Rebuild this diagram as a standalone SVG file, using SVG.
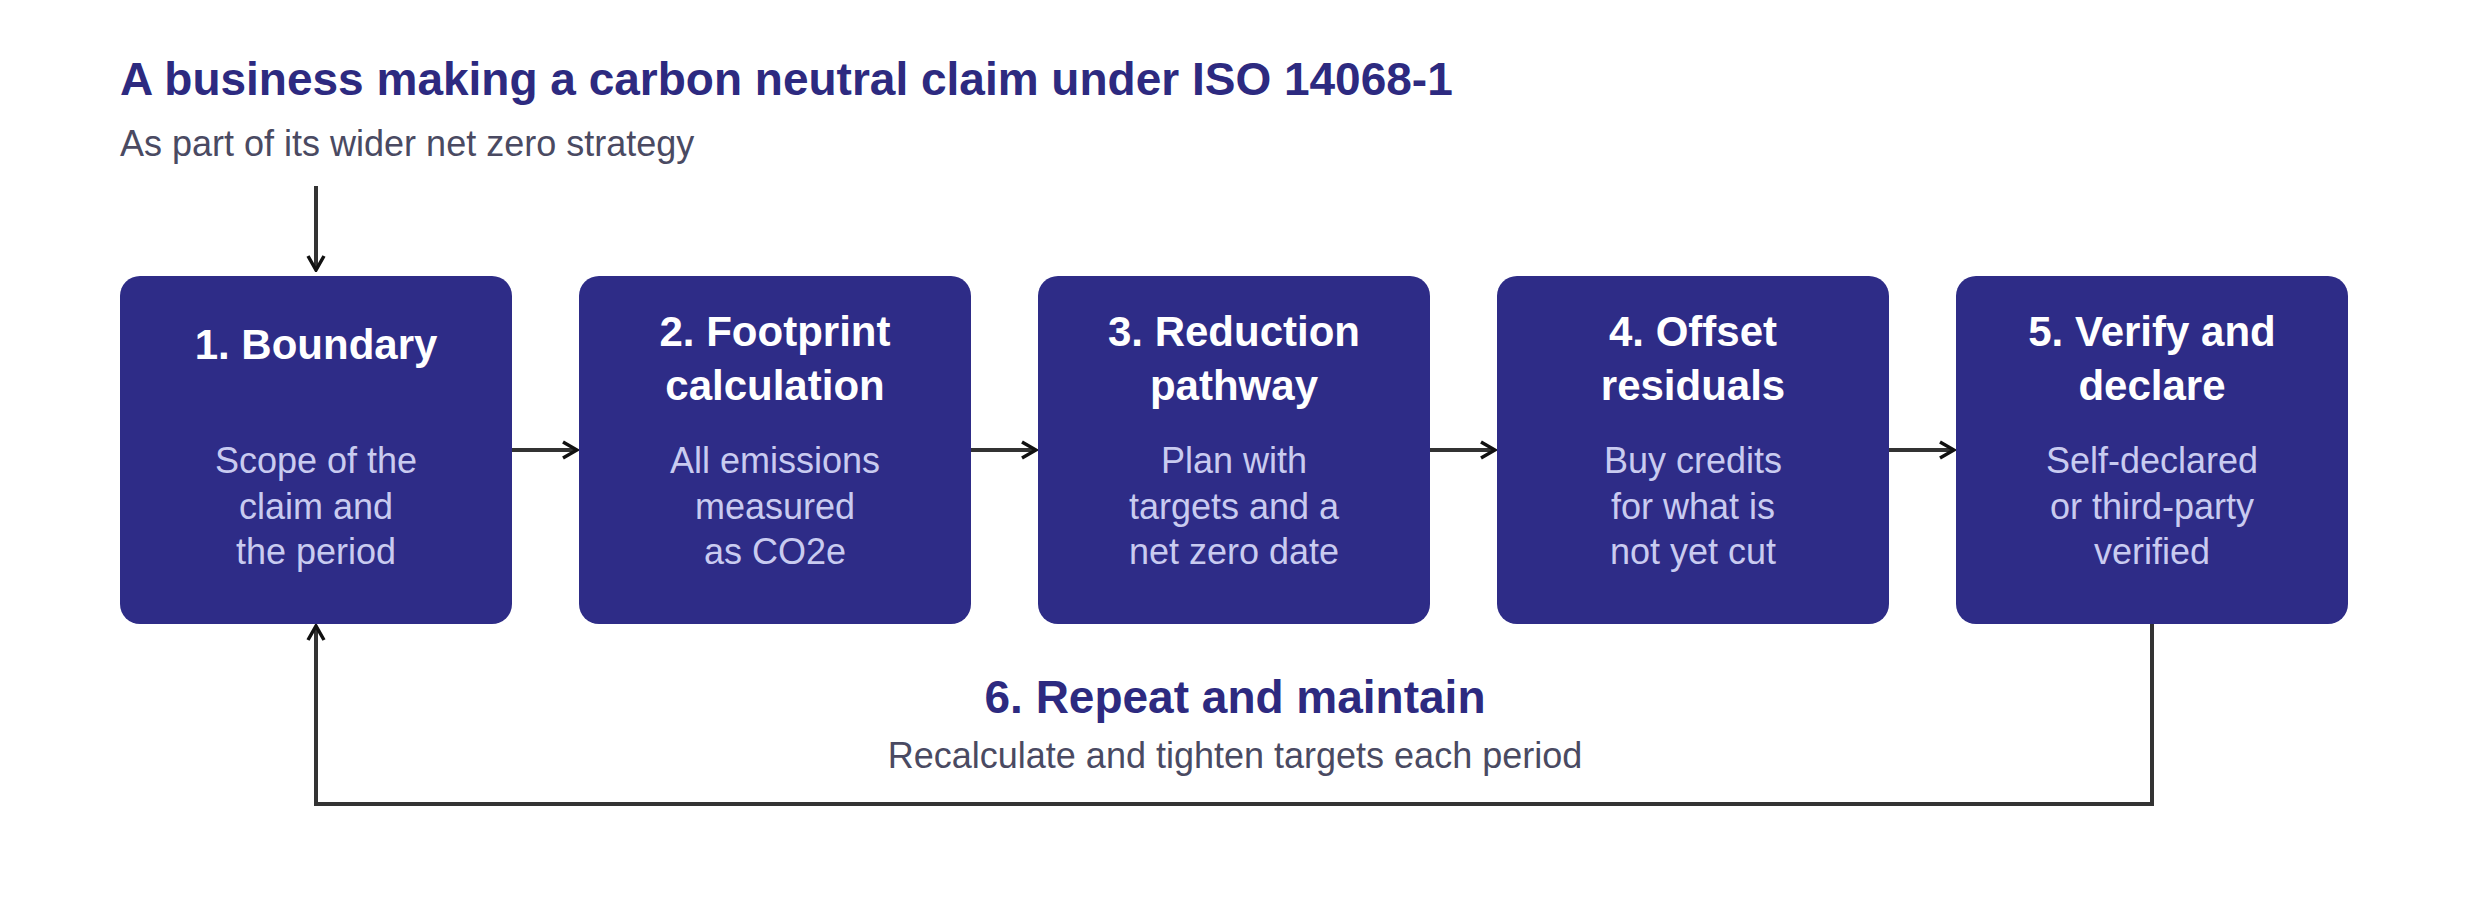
<svg xmlns="http://www.w3.org/2000/svg" width="2469" height="900" viewBox="0 0 2469 900">
<style>
.box{fill:#2E2C87}
.h{font-family:"Liberation Sans",Arial,sans-serif;font-weight:bold;font-size:42px;fill:#fff;text-anchor:middle}
.b{font-family:"Liberation Sans",Arial,sans-serif;font-size:36px;fill:#C9CBF0;text-anchor:middle}
.ln{fill:none;stroke:#333;stroke-width:4}
</style>
<defs><marker id="a" viewBox="0 0 20 20" refX="18" refY="10" markerWidth="20" markerHeight="20" markerUnits="userSpaceOnUse" orient="auto"><path d="M4 2 L18 10 L4 18" fill="none" stroke="#111" stroke-width="3.5"/></marker></defs>
<rect width="2469" height="900" fill="#fff"/>
<text x="120" y="95" font-family="Liberation Sans,Arial,sans-serif" font-weight="bold" font-size="46" fill="#2D2A80">A business making a carbon neutral claim under ISO 14068-1</text>
<text x="120" y="156" font-family="Liberation Sans,Arial,sans-serif" font-size="36" fill="#4A4A62">As part of its wider net zero strategy</text>
<g id="connectors">
<path class="ln" d="M316 186 V270" marker-end="url(#a)"/>
<path class="ln" d="M512 450 H577" marker-end="url(#a)"/>
<path class="ln" d="M971 450 H1036" marker-end="url(#a)"/>
<path class="ln" d="M1430 450 H1495" marker-end="url(#a)"/>
<path class="ln" d="M1889 450 H1954" marker-end="url(#a)"/>
<path class="ln" d="M2152 624 V804 H316 V626" marker-end="url(#a)"/>
</g>
<g id="n1"><rect class="box" x="120" y="276" width="392" height="348" rx="20"/><text class="h" x="316" y="359">1. Boundary</text><text class="b" x="316" y="473">Scope of the</text><text class="b" x="316" y="519">claim and</text><text class="b" x="316" y="564">the period</text></g>
<g id="n2"><rect class="box" x="579" y="276" width="392" height="348" rx="20"/><text class="h" x="775" y="346">2. Footprint</text><text class="h" x="775" y="400">calculation</text><text class="b" x="775" y="473">All emissions</text><text class="b" x="775" y="519">measured</text><text class="b" x="775" y="564">as CO2e</text></g>
<g id="n3"><rect class="box" x="1038" y="276" width="392" height="348" rx="20"/><text class="h" x="1234" y="346">3. Reduction</text><text class="h" x="1234" y="400">pathway</text><text class="b" x="1234" y="473">Plan with</text><text class="b" x="1234" y="519">targets and a</text><text class="b" x="1234" y="564">net zero date</text></g>
<g id="n4"><rect class="box" x="1497" y="276" width="392" height="348" rx="20"/><text class="h" x="1693" y="346">4. Offset</text><text class="h" x="1693" y="400">residuals</text><text class="b" x="1693" y="473">Buy credits</text><text class="b" x="1693" y="519">for what is</text><text class="b" x="1693" y="564">not yet cut</text></g>
<g id="n5"><rect class="box" x="1956" y="276" width="392" height="348" rx="20"/><text class="h" x="2152" y="346">5. Verify and</text><text class="h" x="2152" y="400">declare</text><text class="b" x="2152" y="473">Self-declared</text><text class="b" x="2152" y="519">or third-party</text><text class="b" x="2152" y="564">verified</text></g>
<g id="n6"><text x="1235" y="713" font-family="Liberation Sans,Arial,sans-serif" font-weight="bold" font-size="46" fill="#2D2A80" text-anchor="middle">6. Repeat and maintain</text><text x="1235" y="768" font-family="Liberation Sans,Arial,sans-serif" font-size="36" fill="#4A4A62" text-anchor="middle">Recalculate and tighten targets each period</text></g>
</svg>
